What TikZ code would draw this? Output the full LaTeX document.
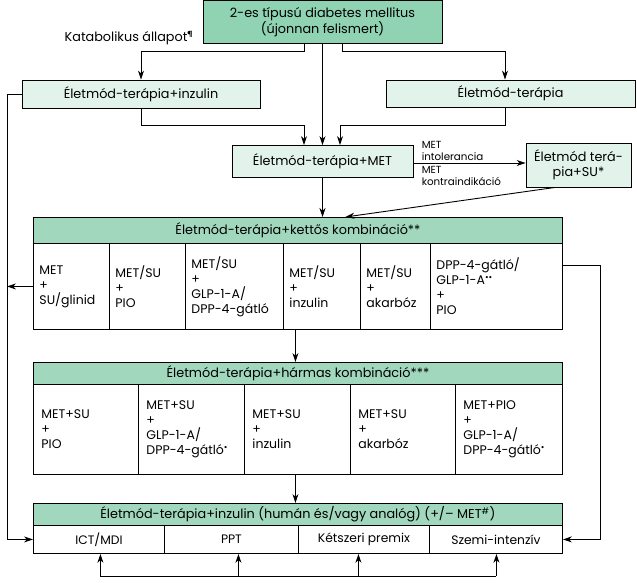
\documentclass[tikz,border=0pt]{standalone}
\usepackage{fontspec}
\setmainfont{Poppins}
\usepackage{tikz}
\usepackage{xcolor}
\usetikzlibrary{arrows.meta,calc}
\tikzset{>={Stealth[length=9pt,width=6pt]}}

\definecolor{topgreen}{HTML}{8FD3B3}
\definecolor{headgreen}{HTML}{A0D7BD}
\definecolor{paleGreen}{HTML}{E2F3EB}

\tikzset{
  box/.style={draw, line width=0.9pt, inner sep=2pt, align=center,
    font=\fontsize{12.8}{15}\selectfont},
  headbox/.style={box, fill=headgreen, anchor=north west},
  cell/.style={draw, line width=0.9pt, anchor=north west, inner sep=0pt},
  celltext/.style={anchor=west, align=left, inner sep=0pt,
    font=\fontsize{12.5}{15}\selectfont},
  side/.style={inner sep=0pt, align=left, font=\fontsize{10.3}{12}\selectfont}
}

\begin{document}
\begin{tikzpicture}[x=1pt, y=-1pt, line width=0.9pt]
      \useasboundingbox (0,0) rectangle (637,583);
      \coordinate (leftrail) at (7,0);
      \coordinate (rightrail) at (600,0);
      \coordinate (loop) at (0,576);

      % upper boxes
      \node[box, fill=topgreen, minimum width=239pt, minimum height=43pt] (diag) at (322.5,22)
        {2-es típusú diabetes mellitus\\(újonnan felismert)};
      \node[box, fill=paleGreen, minimum width=238pt, minimum height=28pt] (insbox) at (141,94)
        {Életmód-terápia+inzulin};
      \node[box, fill=paleGreen, minimum width=249pt, minimum height=27pt] (lifebox) at (510.5,93.5)
        {Életmód-terápia};
      \node[box, fill=paleGreen, minimum width=181pt, minimum height=32pt] (metbox) at (322.5,161.5)
        {Életmód-terápia+MET};
      \node[box, fill=paleGreen, minimum width=105pt, minimum height=44pt] (subox) at (578.5,165)
        {Életmód terá-\\pia+SU*};
      \node[side, font=\fontsize{12.8}{15}\selectfont] (katab) at (129,38)
        {Katabolikus állapot\textsuperscript{¶}};

      % double combination
      \node[headbox, minimum width=529pt, minimum height=26pt] (dualhead) at (33,217)
        {Életmód-terápia+kettős kombináció**};
      \foreach \x/\w/\t [count=\i] in {
          33/76/{MET\\+\\SU/glinid},
          109/76/{MET/SU\\+\\PIO},
          185/98/{MET/SU\\+\\GLP-1-A/\\DPP-4-gátló},
          283/77/{MET/SU\\+\\inzulin},
          360/70/{MET/SU\\+\\akarbóz},
          430/132/{DPP-4-gátló/\\GLP-1-A\textsuperscript{••}\\+\\PIO}} {
        \node[cell, minimum width=\w pt, minimum height=86pt] (d\i) at (\x,243) {};
        \node[celltext] at ([xshift=6pt]d\i.west) {\t};
      }

      % triple combination
      \node[headbox, minimum width=529pt, minimum height=22pt] (trihead) at (33,362)
        {Életmód-terápia+hármas kombináció***};
      \foreach \x/\w/\t [count=\i] in {
          33/105/{MET+SU\\+\\PIO},
          138/106/{MET+SU\\+\\GLP-1-A/\\DPP-4-gátló\textsuperscript{•}},
          244/106/{MET+SU\\+\\inzulin},
          350/105/{MET+SU\\+\\akarbóz},
          455/107/{MET+PIO\\+\\GLP-1-A/\\DPP-4-gátló\textsuperscript{•}}} {
        \node[cell, minimum width=\w pt, minimum height=90pt] (t\i) at (\x,384) {};
        \node[celltext] at ([xshift=8pt]t\i.west) {\t};
      }

      % insulin
      \node[headbox, minimum width=529pt, minimum height=22pt] (inshead) at (33,503)
        {Életmód-terápia+inzulin (humán és/vagy analóg) (+/– MET\textsuperscript{\#})};
      \foreach \x/\w/\t [count=\i] in {
          33/131/{ICT/MDI},
          164/134/{PPT},
          298/131/{Kétszeri premix},
          429/133/{Szemi-intenzív}} {
        \node[cell, minimum width=\w pt, minimum height=28pt, font=\fontsize{12.3}{14}\selectfont] (b\i) at (\x,525) {\t};
      }

      % arrows
      \draw[->] ([xshift=-18pt]diag.south) -- ++(0,8) -| (insbox.north);
      \draw[->] (diag.south) -- (metbox.north);
      \draw[->] ([xshift=19.5pt]diag.south) -- ++(0,8) -| ([xshift=-5.5pt]lifebox.north);
      \draw[->] (insbox.south) -- ++(0,17) -| ([xshift=-18.5pt]metbox.north);
      \draw[->] ([xshift=-5.5pt]lifebox.south) -- ++(0,18.5) -| ([xshift=17.5pt]metbox.north);
      \draw[->] ([yshift=-1.5pt]metbox.east) -- ([yshift=-1.5pt]metbox.east -| subox.west)
        node[side, pos=0.07, anchor=south west, yshift=2pt] {MET\\intolerancia}
        node[side, pos=0.07, anchor=north west, yshift=-3pt] {MET\\kontraindikáció};
      \draw[->] ([xshift=-23.5pt]subox.south) -- ([xshift=47.5pt]dualhead.north);
      \draw[->] (metbox.south) -- (metbox.south |- dualhead.north);
      \draw[->] (insbox.west) -- (insbox.west -| leftrail) |- (b1.west);
      \draw[->] (d1.west) -- (d1.west -| leftrail);
      \draw[->] ([yshift=21pt]d6.east) -- ([yshift=21pt]d6.east -| rightrail) |- (b4.east);
      \draw[->] ([xshift=-2.5pt]d4.south -| trihead.north) -- ([xshift=-2.5pt]trihead.north);
      \draw[->] ([xshift=-2.5pt]t1.south -| inshead.north) -- ([xshift=-2.5pt]inshead.north);
      \draw ([xshift=1.5pt]b1.south |- loop) -- ([xshift=0.5pt]b4.south |- loop);
      \foreach \n/\s in {b1/1.5, b2/7, b3/-5.5, b4/0.5}
        \draw[->] ([xshift=\s pt]\n.south |- loop) -- ([xshift=\s pt]\n.south);
\end{tikzpicture}
\end{document}
